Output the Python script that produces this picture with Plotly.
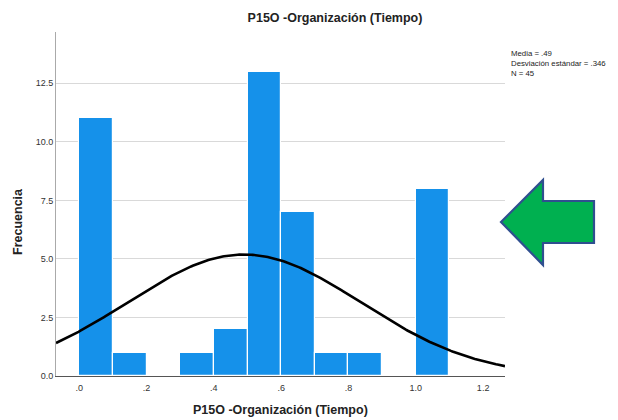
import numpy as np
import plotly.graph_objects as go

# Data
bin_left = [0.0, 0.1, 0.2, 0.3, 0.4, 0.5, 0.6, 0.7, 0.8, 0.9, 1.0]
counts = [11, 1, 0, 1, 2, 13, 7, 1, 1, 0, 8]
bin_width = 0.1
media = 0.49
desv = 0.346
n_total = 45

x_tickvals = [0.0, 0.2, 0.4, 0.6, 0.8, 1.0, 1.2]
x_ticktext = [".0", ".2", ".4", ".6", ".8", "1.0", "1.2"]
y_tickvals = [0.0, 2.5, 5.0, 7.5, 10.0, 12.5]
y_ticktext = ["0.0", "2.5", "5.0", "7.5", "10.0", "12.5"]

title = "P15O -Organización (Tiempo)"
FONT = "Liberation Sans, Arial, sans-serif"

x_range = [-0.069, 1.265]
y_range = [0, 14.69]
centers = [b + bin_width / 2 for b in bin_left]

fig = go.Figure()
fig.add_trace(go.Bar(
    x=centers, y=counts, width=bin_width,
    marker=dict(color="#1591EA", line=dict(color="white", width=1.2)),
    showlegend=False, hoverinfo="skip",
))

xs = np.linspace(x_range[0], x_range[1], 300)
ys = n_total * bin_width * np.exp(-0.5 * ((xs - media) / desv) ** 2) / (desv * np.sqrt(2 * np.pi))
fig.add_trace(go.Scatter(x=xs, y=ys, mode="lines",
                         line=dict(color="black", width=2.6),
                         showlegend=False, hoverinfo="skip"))

L, R, T, B = 56, 505, 32, 376
W, H = 618, 420


def px(x):
    return (x - L) / (R - L)


def py(y):
    return (B - y) / (B - T)


arrow_pts = [(501, 222), (543, 180), (543, 201), (594, 201), (594, 243), (543, 243), (543, 265)]
path = "M " + " L ".join(f"{px(a):.4f},{py(b):.4f}" for a, b in arrow_pts) + " Z"
fig.add_shape(type="path", path=path, xref="paper", yref="paper",
              fillcolor="#00B050", line=dict(color="#2F4F8F", width=2.2))

fig.add_annotation(
    x=px(509), y=py(47), xref="paper", yref="paper", xanchor="left", yanchor="top",
    text="Media = .49<br>Desviación estándar = .346<br>N = 45",
    showarrow=False, align="left", font=dict(family=FONT, size=7.8, color="#222"),
)

# Axis titles
fig.add_annotation(x=px(280), y=py(410), xref="paper", yref="paper",
                   xanchor="center", yanchor="middle", showarrow=False,
                   text="<b>" + title + "</b>", font=dict(family=FONT, size=12.5, color="#222"))
fig.add_annotation(x=px(18), y=py(222), xref="paper", yref="paper",
                   xanchor="center", yanchor="middle", showarrow=False, textangle=-90,
                   text="<b>Frecuencia</b>", font=dict(family=FONT, size=12.5, color="#222"))

fig.update_layout(
    width=W, height=H,
    margin=dict(l=L, r=W - R, t=T, b=H - B),
    paper_bgcolor="white", plot_bgcolor="white",
    bargap=0,
    title=dict(text="<b>" + title + "</b>", x=335 / W, xanchor="center",
               y=1 - 18 / H, yanchor="middle",
               font=dict(family=FONT, size=12.5, color="#222")),
    font=dict(family=FONT),
    xaxis=dict(range=x_range, tickvals=x_tickvals, ticktext=x_ticktext,
               showgrid=False, zeroline=False, showline=True, linecolor="#555",
               linewidth=1, ticks="", tickfont=dict(size=9, color="#333"),
               ticklabelstandoff=3, automargin=False),
    yaxis=dict(range=y_range, tickvals=y_tickvals, ticktext=y_ticktext,
               showgrid=True, gridcolor="#d9d9d9", gridwidth=1.3,
               zeroline=False, showline=True, linecolor="#aaa", linewidth=1,
               ticks="", tickfont=dict(size=9, color="#333"),
               automargin=False),
)

fig.write_html("out.html", config={"displayModeBar": False},
               post_script="document.body.style.margin='0';document.body.style.padding='0';")
